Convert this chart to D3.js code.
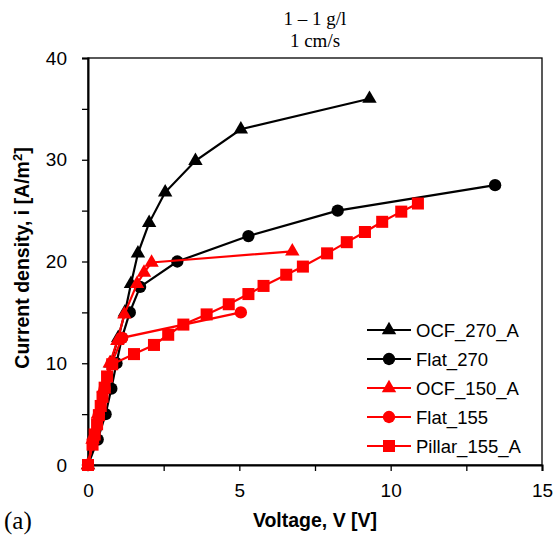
<!DOCTYPE html>
<html><head><meta charset="utf-8">
<script src="https://cdn.jsdelivr.net/npm/d3@7"></script>
<style>body{margin:0;background:#fff}</style>
</head><body>
<svg id="c" width="559" height="544"></svg>
<script>
const seriesNames = ["OCF_270_A","Flat_270","OCF_150_A","Flat_155","Pillar_155_A"];
const seriesColors = ["#000000","#000000","#ff0000","#ff0000","#ff0000"];
const seriesSymbols = ["triangle","circle","triangle","circle","square"];
const ocf270 = [[0,0],[0.2,2.5],[0.4,5],[0.55,7.5],[0.75,10],[1.0,12.5],[1.22,15],[1.42,17.8],[1.65,20.8],[2.02,23.8],[2.55,26.8],[3.55,29.9],[5.05,33],[9.3,36]];
const flat270 = [[0,0],[0.32,2.5],[0.58,5],[0.77,7.5],[0.94,10],[1.12,12.5],[1.38,15],[1.72,17.5],[2.95,20],[5.3,22.5],[8.25,25],[13.45,27.5]];
const ocf150 = [[0,0],[0.15,2.5],[0.33,5],[0.52,7.5],[0.72,10],[0.97,12.2],[1.2,14.8],[1.62,17.8],[1.85,18.9],[2.1,19.9],[6.75,21]];
const flat155 = [[0,0],[0.18,2.5],[0.36,5],[0.55,7.5],[0.78,10],[1.13,12.5],[5.05,15]];
const pillar155 = [[0,0],[0.15,2],[0.22,3],[0.3,4],[0.36,4.9],[0.42,5.8],[0.48,6.7],[0.55,7.6],[0.63,8.7],[0.8,9.9],[1.52,10.9],[2.18,11.8],[2.65,12.8],[3.15,13.8],[3.92,14.8],[4.65,15.8],[5.3,16.8],[5.8,17.6],[6.55,18.7],[7.1,19.5],[7.9,20.8],[8.55,21.9],[9.15,22.9],[9.72,23.9],[10.35,24.9],[10.9,25.7]];
const seriesData = [ocf270, flat270, ocf150, flat155, pillar155];
const xTicks = [0,5,10,15];
const yTicks = [0,10,20,30,40];
const titleLines = ["1 \u2013 1 g/l","1 cm/s"];

const svg = d3.select("#c");
const L=88, R=542, T=58, B=465;
const x = d3.scaleLinear().domain([0,15]).range([L,R]);
const y = d3.scaleLinear().domain([0,40]).range([B,T]);

svg.append("rect").attr("x",L).attr("y",T).attr("width",R-L).attr("height",B-T)
  .attr("fill","none").attr("stroke","#000").attr("stroke-width",1.3);

const xa = svg.append("g").attr("transform",`translate(0,${B})`)
  .call(d3.axisBottom(x).tickValues(d3.range(0,15.01,2.5)).tickSize(6).tickFormat(d=>xTicks.includes(d)?d:""));
xa.select(".domain").attr("stroke-width",2);
xa.selectAll("text").attr("font-family","Liberation Sans, Arial, sans-serif").attr("font-size",19).attr("dy","1.2em").attr("fill","#000");
xa.selectAll("line").attr("stroke-width",1.3);

const ya = svg.append("g").attr("transform",`translate(${L},0)`)
  .call(d3.axisLeft(y).tickValues(d3.range(0,40.01,5)).tickSize(6).tickFormat(d=>yTicks.includes(d)?d:""));
ya.select(".domain").attr("stroke-width",2);
ya.selectAll("text").attr("font-family","Liberation Sans, Arial, sans-serif").attr("font-size",19).attr("x",-21).attr("fill","#000");
ya.selectAll("line").attr("stroke-width",1.3);

const symMap = {triangle:d3.symbolTriangle, circle:d3.symbolCircle, square:d3.symbolSquare};
const symSize = {triangle:90, circle:120, square:145};
const line = d3.line().x(d=>x(d[0])).y(d=>y(d[1]));

seriesData.forEach((data,i)=>{
  const g = svg.append("g");
  g.append("path").attr("d",line(data)).attr("fill","none").attr("stroke",seriesColors[i]).attr("stroke-width",2.2);
  g.selectAll("path.m").data(data).enter().append("path").attr("class","m")
    .attr("transform",d=>`translate(${x(d[0])},${y(d[1])})`)
    .attr("d",d3.symbol().type(symMap[seriesSymbols[i]]).size(symSize[seriesSymbols[i]])())
    .attr("fill",seriesColors[i]);
});

const lg = svg.append("g");
seriesNames.forEach((n,i)=>{
  const yy = 330 + i*29;
  lg.append("line").attr("x1",367).attr("x2",411).attr("y1",yy).attr("y2",yy).attr("stroke",seriesColors[i]).attr("stroke-width",2.2);
  lg.append("path").attr("transform",`translate(389,${yy})`)
    .attr("d",d3.symbol().type(symMap[seriesSymbols[i]]).size(symSize[seriesSymbols[i]])()).attr("fill",seriesColors[i]);
  lg.append("text").attr("x",416).attr("y",yy).attr("dy","0.36em").text(n)
    .attr("font-family","Liberation Sans, Arial, sans-serif").attr("font-size",18.5).attr("fill","#000");
});

titleLines.forEach((t,i)=>{
  svg.append("text").attr("x",315).attr("y",25+i*22).attr("text-anchor","middle").text(t)
    .attr("font-family","Liberation Serif, Times New Roman, serif").attr("font-size",19).attr("fill","#000");
});
svg.append("text").attr("x",315).attr("y",527).attr("text-anchor","middle").text("Voltage, V [V]")
  .attr("font-family","Liberation Sans, Arial, sans-serif").attr("font-weight","bold").attr("font-size",19.5).attr("fill","#000");
svg.append("text").attr("transform","translate(29,258) rotate(-90)").attr("text-anchor","middle")
  .attr("font-family","Liberation Sans, Arial, sans-serif").attr("font-weight","bold").attr("font-size",19.5).attr("fill","#000")
  .html('Current density, i [A/m<tspan dy="-7" font-size="13">2</tspan><tspan dy="7">]</tspan>');
svg.append("text").attr("x",4).attr("y",529).text("(a)")
  .attr("font-family","Liberation Serif, Times New Roman, serif").attr("font-size",25).attr("fill","#000");
</script>
</body></html>
